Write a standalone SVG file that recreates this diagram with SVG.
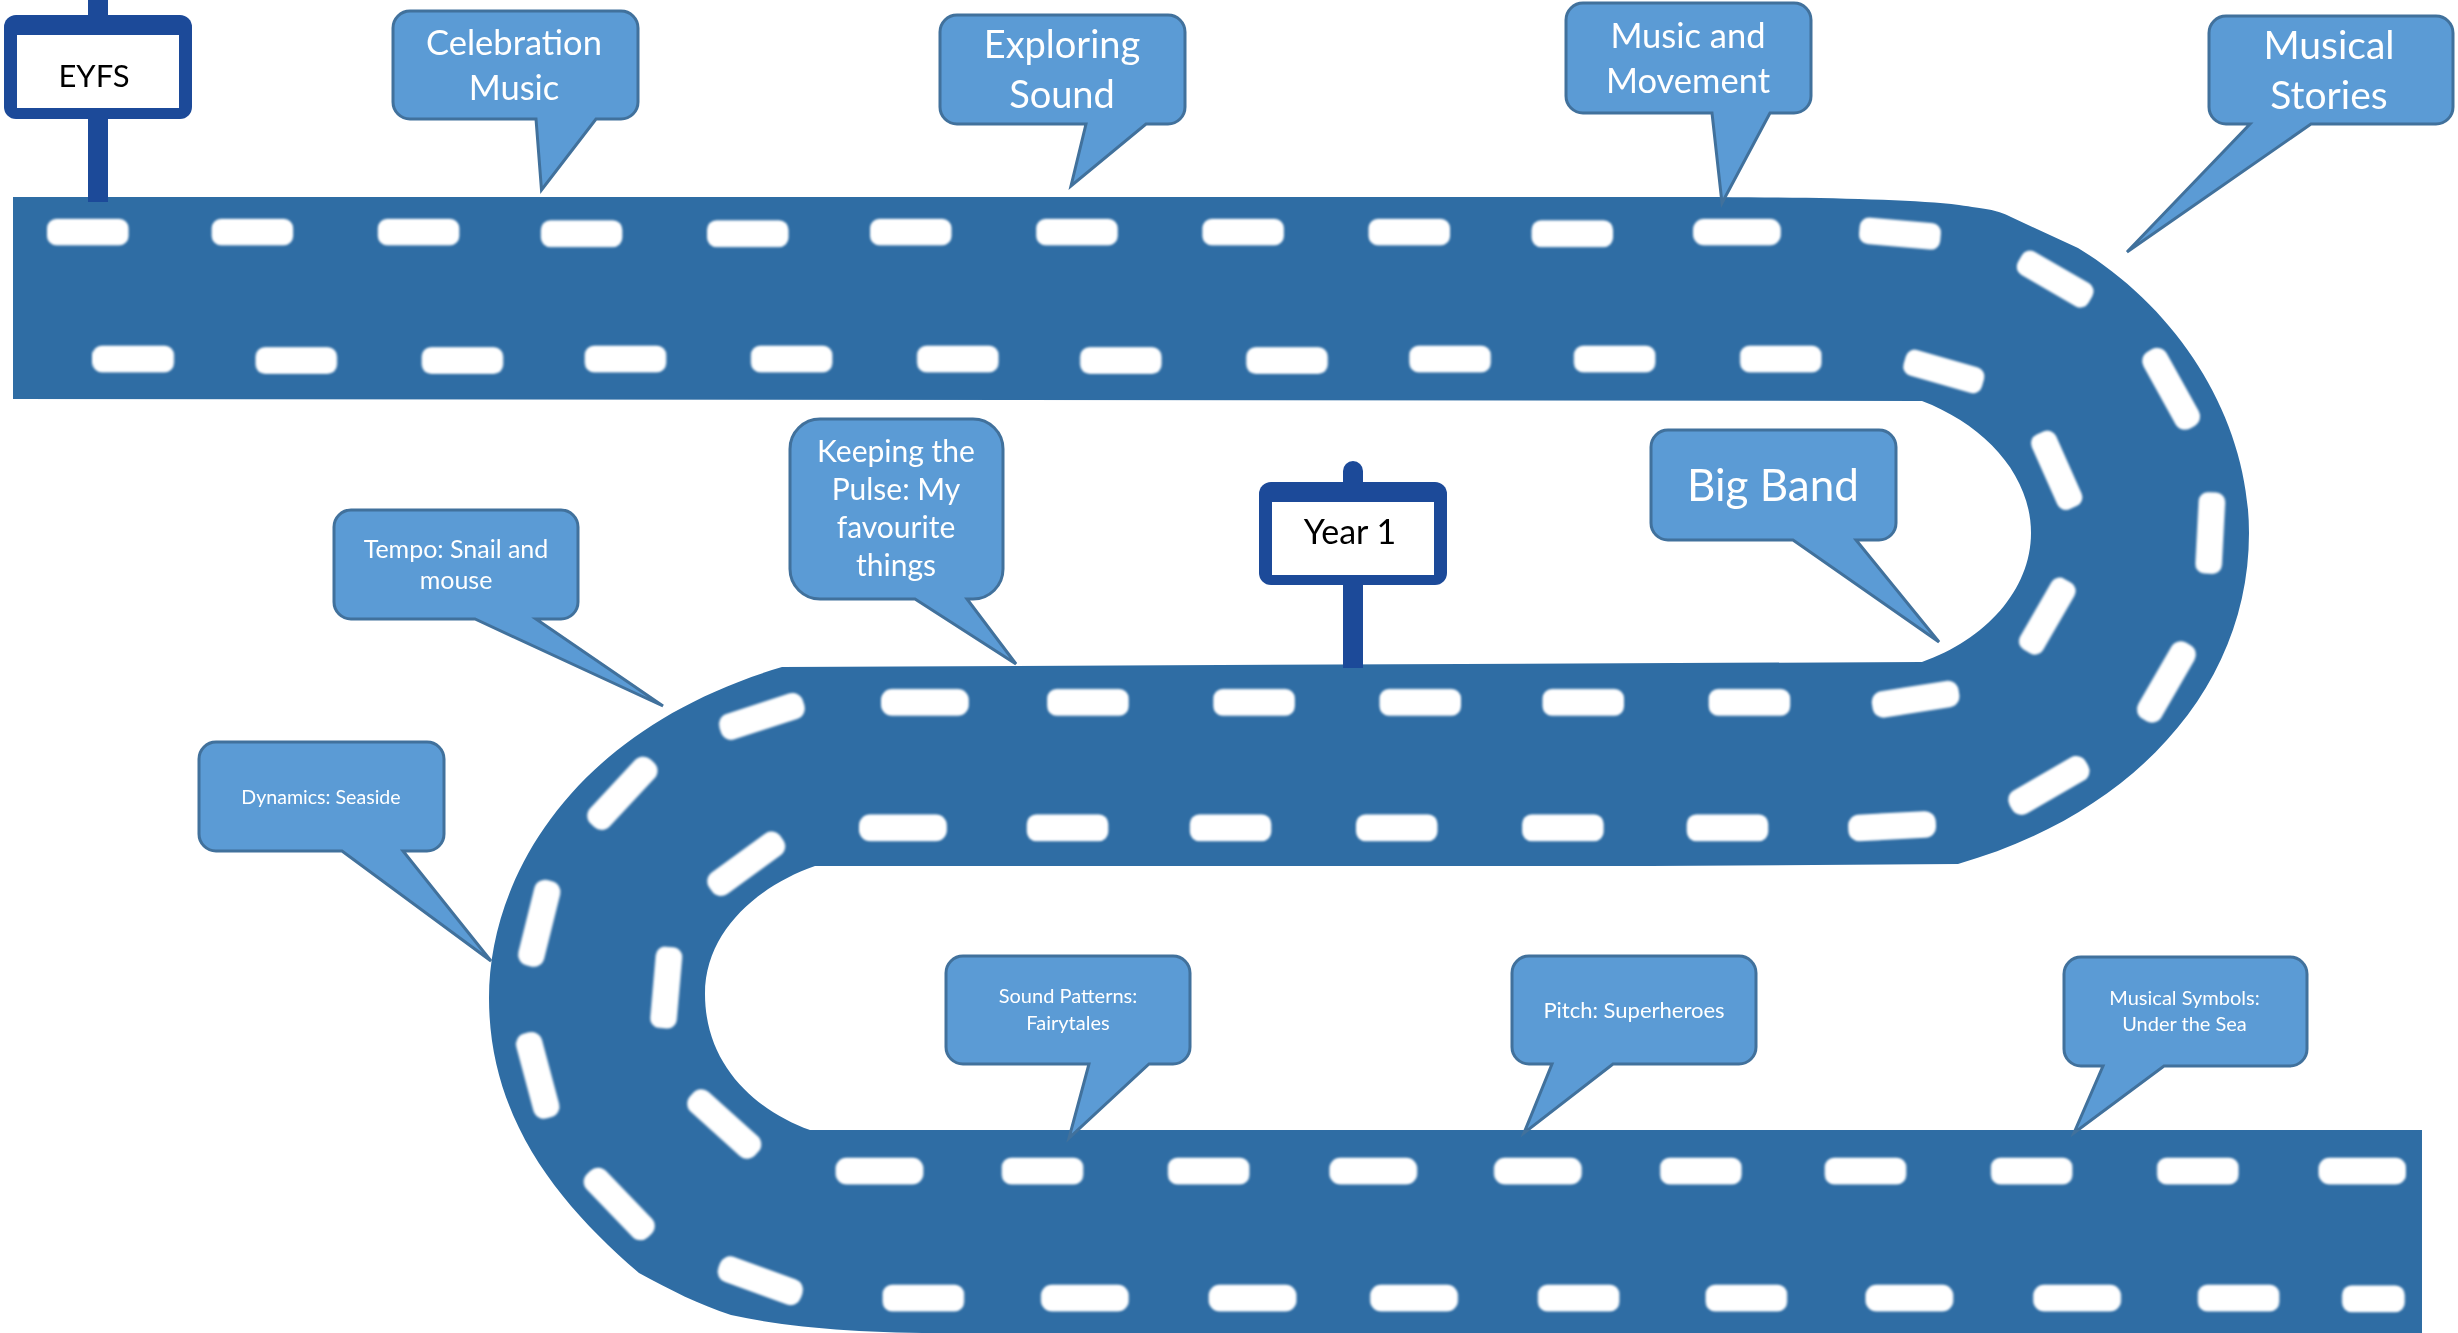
<svg xmlns="http://www.w3.org/2000/svg" width="2458" height="1333" viewBox="0 0 2458 1333">
<style>
.bubble{fill:#5b9bd5;stroke:#41719c;stroke-width:3;stroke-linejoin:miter}
.lbl{font-family:"Lato","Liberation Sans",sans-serif;fill:#fff;text-anchor:middle}
.sign{font-family:"Lato","Liberation Sans",sans-serif;fill:#000;text-anchor:middle}
.post{fill:#1c4a99}
.road{fill:#2f6da4}
</style>
<defs>
<filter id="soft" x="-20%" y="-40%" width="140%" height="180%"><feGaussianBlur stdDeviation="0.8"/></filter>
<rect id="d" x="-26" y="-8.500" width="52" height="17" rx="6" fill="#fff"/>
<rect id="e" x="-28" y="-8.500" width="56" height="17" rx="7" fill="#fff"/>
</defs>
<rect width="2458" height="1333" fill="#fff"/>
<g id="road">
<path class="road" d="M13 197 H1650 C1780 197 1900 198 1959 205 C1985 209 1995 209 2011 217 L2078 248 C2180 310 2249 420 2249 533 C2249 690 2130 815 1958 864 L1650 866 H815 C760 885 705 930 705 994 C705 1065 755 1110 810 1130 H2422 V1333 H950 C860 1333 790 1328 731 1315 C700 1305 670 1290 639 1273 C560 1205 489 1120 489 998 C489 880 570 730 782 667 L1922 662 C1985 640 2031 590 2031 533 C2031 475 1985 425 1922 401 L13 399 Z"/>
</g>
<g id="lane-dashes" transform="scale(1.5676)" filter="url(#soft)">
<use href="#d" x="56" y="148"/><use href="#d" x="161" y="148"/><use href="#d" x="267" y="148"/><use href="#d" x="371" y="149"/><use href="#d" x="477" y="149"/><use href="#d" x="581" y="148"/><use href="#d" x="687" y="148"/><use href="#d" x="793" y="148"/><use href="#d" x="899" y="148"/><use href="#d" x="1003" y="149"/><use href="#e" x="1108" y="148"/>
<use href="#d" transform="translate(1212 149) rotate(5)"/>
<use href="#d" transform="translate(1311 178) rotate(30)"/>
<use href="#e" transform="translate(1385 248) rotate(61)"/>
<use href="#d" transform="translate(1410 340) rotate(93)"/>
<use href="#e" transform="translate(1382 435) rotate(-60)"/>
<use href="#e" transform="translate(1307 501) rotate(-30)"/>
<use href="#e" transform="translate(1207 527) rotate(-3)"/>
<use href="#d" x="1102" y="528"/><use href="#d" x="997" y="528"/><use href="#d" x="891" y="528"/><use href="#d" x="785" y="528"/><use href="#d" x="681" y="528"/><use href="#e" x="576" y="528"/>
<use href="#d" x="85" y="229"/><use href="#d" x="189" y="230"/><use href="#d" x="295" y="230"/><use href="#d" x="399" y="229"/><use href="#d" x="505" y="229"/><use href="#d" x="611" y="229"/><use href="#d" x="715" y="230"/><use href="#d" x="821" y="230"/><use href="#d" x="925" y="229"/><use href="#d" x="1030" y="229"/><use href="#d" x="1136" y="229"/>
<use href="#d" transform="translate(1240 237) rotate(16)"/>
<use href="#d" transform="translate(1312 300) rotate(66)"/>
<use href="#d" transform="translate(1306 393) rotate(-60)"/>
<use href="#e" transform="translate(1222 446) rotate(-9)"/>
<use href="#d" x="1116" y="448"/><use href="#d" x="1010" y="448"/><use href="#d" x="906" y="448"/><use href="#d" x="800" y="448"/><use href="#d" x="694" y="448"/><use href="#e" x="590" y="448"/>
<use href="#e" transform="translate(486 457) rotate(-18)"/>
<use href="#e" transform="translate(397 506) rotate(-47)"/>
<use href="#e" transform="translate(344 589) rotate(-76)"/>
<use href="#e" transform="translate(343 686) rotate(75)"/>
<use href="#e" transform="translate(395 768) rotate(46)"/>
<use href="#e" transform="translate(485 817) rotate(20)"/>
<use href="#d" x="589" y="828"/><use href="#e" x="692" y="828"/><use href="#e" x="799" y="828"/><use href="#e" x="902" y="828"/><use href="#d" x="1007" y="828"/><use href="#d" x="1114" y="828"/><use href="#e" x="1218" y="828"/><use href="#e" x="1325" y="828"/><use href="#d" x="1428" y="828"/>
<rect x="1494" y="820" width="40" height="17" rx="6" fill="#fff"/>
<use href="#e" transform="translate(476 551) rotate(-36)"/>
<use href="#d" transform="translate(425 630) rotate(-85)"/>
<use href="#e" transform="translate(462 717) rotate(42)"/>
<use href="#e" x="561" y="747"/><use href="#d" x="665" y="747"/><use href="#d" x="771" y="747"/><use href="#e" x="876" y="747"/><use href="#e" x="981" y="747"/><use href="#d" x="1085" y="747"/><use href="#d" x="1190" y="747"/><use href="#d" x="1296" y="747"/><use href="#d" x="1402" y="747"/><use href="#e" x="1507" y="747"/>
</g>
<g id="sign-eyfs">
<rect class="post" x="88" y="0" width="20" height="202"/>
<rect class="post" x="4" y="15" width="188" height="104" rx="12"/>
<rect x="17" y="35" width="162" height="73" fill="#fff"/>
<text class="sign" font-size="31" x="94" y="87">EYFS</text>
</g>
<g id="sign-year1">
<rect class="post" x="1343" y="461" width="20" height="207" rx="10"/>
<rect class="post" x="1343" y="560" width="20" height="108"/>
<rect class="post" x="1259" y="482" width="188" height="103" rx="12"/>
<rect x="1272" y="502" width="162" height="73" fill="#fff"/>
<text class="sign" font-size="34" x="1350" y="544">Year 1</text>
</g>
<g id="callout-celebration">
<path class="bubble" d="M410 11 H621 A17 17 0 0 1 638 28 V102 A17 17 0 0 1 621 119 H596 L541.500 190 L536 119 H410 A17 17 0 0 1 393 102 V28 A17 17 0 0 1 410 11 Z"/>
<text class="lbl" font-size="34.500" x="514" y="55">Celebration</text>
<text class="lbl" font-size="34.500" x="514" y="100">Music</text>
</g>
<g id="callout-exploring">
<path class="bubble" d="M957 15 H1168 A17 17 0 0 1 1185 32 V107 A17 17 0 0 1 1168 124 H1146 L1071 186 L1086 124 H957 A17 17 0 0 1 940 107 V32 A17 17 0 0 1 957 15 Z"/>
<text class="lbl" font-size="38" x="1062" y="58">Exploring</text>
<text class="lbl" font-size="38" x="1062" y="108">Sound</text>
</g>
<g id="callout-movement">
<path class="bubble" d="M1583 3 H1794 A17 17 0 0 1 1811 20 V96 A17 17 0 0 1 1794 113 H1770 L1722 203 L1712 113 H1583 A17 17 0 0 1 1566 96 V20 A17 17 0 0 1 1583 3 Z"/>
<text class="lbl" font-size="34.500" x="1688" y="48">Music and</text>
<text class="lbl" font-size="34.500" x="1688" y="93">Movement</text>
</g>
<g id="callout-stories">
<path class="bubble" d="M2226 16 H2436 A17 17 0 0 1 2453 33 V107 A17 17 0 0 1 2436 124 H2311 L2127 252 L2250 124 H2226 A17 17 0 0 1 2209 107 V33 A17 17 0 0 1 2226 16 Z"/>
<text class="lbl" font-size="39" x="2329" y="59">Musical</text>
<text class="lbl" font-size="39" x="2329" y="109">Stories</text>
</g>
<g id="callout-bigband">
<path class="bubble" d="M1668 430 H1879 A17 17 0 0 1 1896 447 V523 A17 17 0 0 1 1879 540 H1856 L1939 642 L1793 540 H1668 A17 17 0 0 1 1651 523 V447 A17 17 0 0 1 1668 430 Z"/>
<text class="lbl" font-size="44" x="1773" y="501">Big Band</text>
</g>
<g id="callout-keeping">
<path class="bubble" d="M820 419 H973 A30 30 0 0 1 1003 449 V569 A30 30 0 0 1 973 599 H967 L1016 664 L915 599 H820 A30 30 0 0 1 790 569 V449 A30 30 0 0 1 820 419 Z"/>
<text class="lbl" font-size="30" x="896" y="462">Keeping the</text>
<text class="lbl" font-size="30" x="896" y="500">Pulse: My</text>
<text class="lbl" font-size="30" x="896" y="538">favourite</text>
<text class="lbl" font-size="30" x="896" y="576">things</text>
</g>
<g id="callout-tempo">
<path class="bubble" d="M351 510 H561 A17 17 0 0 1 578 527 V602 A17 17 0 0 1 561 619 H536 L663 706 L475 619 H351 A17 17 0 0 1 334 602 V527 A17 17 0 0 1 351 510 Z"/>
<text class="lbl" font-size="25" x="456" y="558">Tempo: Snail and</text>
<text class="lbl" font-size="25" x="456" y="589">mouse</text>
</g>
<g id="callout-dynamics">
<path class="bubble" d="M216 742 H427 A17 17 0 0 1 444 759 V834 A17 17 0 0 1 427 851 H403 L491 961 L342 851 H216 A17 17 0 0 1 199 834 V759 A17 17 0 0 1 216 742 Z"/>
<text class="lbl" font-size="19.600" x="321" y="804">Dynamics: Seaside</text>
</g>
<g id="callout-patterns">
<path class="bubble" d="M963 956 H1173 A17 17 0 0 1 1190 973 V1047 A17 17 0 0 1 1173 1064 H1149 L1069 1138 L1089 1064 H963 A17 17 0 0 1 946 1047 V973 A17 17 0 0 1 963 956 Z"/>
<text class="lbl" font-size="20" x="1068" y="1003">Sound Patterns:</text>
<text class="lbl" font-size="20" x="1068" y="1030">Fairytales</text>
</g>
<g id="callout-pitch">
<path class="bubble" d="M1529 956 H1739 A17 17 0 0 1 1756 973 V1047 A17 17 0 0 1 1739 1064 H1613 L1524 1133 L1552 1064 H1529 A17 17 0 0 1 1512 1047 V973 A17 17 0 0 1 1529 956 Z"/>
<text class="lbl" font-size="22" x="1634" y="1018">Pitch: Superheroes</text>
</g>
<g id="callout-symbols">
<path class="bubble" d="M2081 957 H2290 A17 17 0 0 1 2307 974 V1049 A17 17 0 0 1 2290 1066 H2164 L2074 1133 L2103 1066 H2081 A17 17 0 0 1 2064 1049 V974 A17 17 0 0 1 2081 957 Z"/>
<text class="lbl" font-size="20" x="2184.500" y="1005">Musical Symbols:</text>
<text class="lbl" font-size="20" x="2184.500" y="1031">Under the Sea</text>
</g>
</svg>
